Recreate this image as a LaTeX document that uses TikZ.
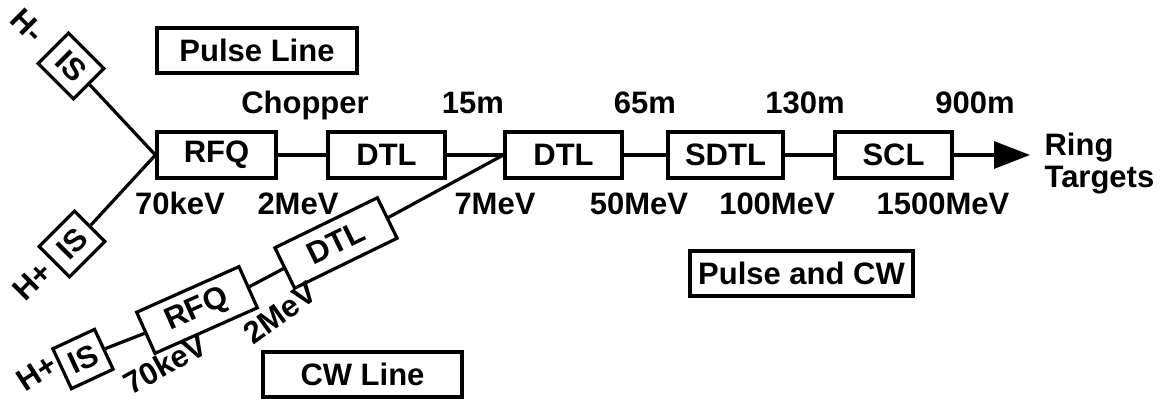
\documentclass[tikz,border=0pt]{standalone}
\usepackage{fontspec}
\setmainfont{Liberation Sans}
\usetikzlibrary{arrows.meta}
\begin{document}
\begin{tikzpicture}[x=1pt,y=-1pt,line width=3.2pt,
  every node/.style={font=\fontsize{31}{35}\selectfont\bfseries},
  box/.style={draw,minimum width=117pt,minimum height=46pt,inner sep=0pt},
  isbox/.style={draw,minimum width=50pt,minimum height=43pt,inner sep=0pt},
  lbl/.style={anchor=base,inner sep=0pt},
  rlbl/.style={inner sep=0pt},
  titlebox/.style={draw,minimum height=45pt,inner sep=0pt}]
\useasboundingbox (0,0) rectangle (1160,399);
% main line
\node[box,minimum width=119pt] (rfq) at (216.5,155) {RFQ};
\node[box] (dtla) at (386.5,155) {DTL};
\node[box] (dtlb) at (563.5,155) {DTL};
\node[box,minimum width=115pt] (sdtl) at (725.5,155) {SDTL};
\node[box] (scl) at (893.5,155) {SCL};
\coordinate (tip) at (1030,155);
\draw (rfq.east) -- (dtla.west);
\draw (dtla.east) -- (dtlb.west);
\draw (dtlb.east) -- (sdtl.west);
\draw (sdtl.east) -- (scl.west);
\draw[-{Triangle[length=36pt,width=27pt]}] (scl.east) -- (tip);
\node[lbl,anchor=base west] (ring) at (1043,155) {Ring};
\node[lbl,anchor=base west] (targets) at (1043,187) {Targets};
% ion sources of the pulse line
\node[isbox,rotate=-45] (isa) at (71,66) {IS};
\node[isbox,rotate=45] (isb) at (72,244) {IS};
\node[rlbl,rotate=-45] (hm) at (28,26) {H-};
\node[rlbl,rotate=45] (hpa) at (32,281) {H+};
\draw (isa.east) -- (rfq.west);
\draw (isb.east) -- (rfq.west);
% CW line
\node[isbox,rotate=25,minimum width=46pt,minimum height=44pt] (isc) at (83,359) {IS};
\node[box,rotate=24,minimum width=112pt,minimum height=45pt] (rfqc) at (197,310) {RFQ};
\node[box,rotate=26,minimum width=114pt,minimum height=45pt] (dtlc) at (336,243) {DTL};
\draw (isc.east) -- (rfqc.west);
\draw (rfqc.east) -- (dtlc.west);
\draw (dtlc.east) -- (dtlb.west);
\node[rlbl,rotate=33] (hpb) at (37,373) {H+};
\node[rlbl,rotate=29] (kevc) at (165,364) {70keV};
\node[rlbl,rotate=36] (mevc) at (280,313) {2MeV};
% top labels
\node[lbl] (chop) at (305,113) {Chopper};
\node[lbl] (m15) at (473,113) {15m};
\node[lbl] (m65) at (645,113) {65m};
\node[lbl] (m130) at (805,113) {130m};
\node[lbl] (m900) at (975,113) {900m};
% bottom labels
\node[lbl] (e70) at (180,214) {70keV};
\node[lbl] (e2) at (298,214) {2MeV};
\node[lbl] (e7) at (495,214) {7MeV};
\node[lbl] (e50) at (639,214) {50MeV};
\node[lbl] (e100) at (777,214) {100MeV};
\node[lbl] (e1500) at (943,214) {1500MeV};
% title boxes
\node[titlebox,minimum width=200pt] (pline) at (257,50.5) {Pulse Line};
\node[titlebox,minimum width=223pt] (pcw) at (801.5,273.5) {Pulse and CW};
\node[titlebox,minimum width=199pt] (cwline) at (362.5,374.5) {CW Line};
\end{tikzpicture}
\end{document}
